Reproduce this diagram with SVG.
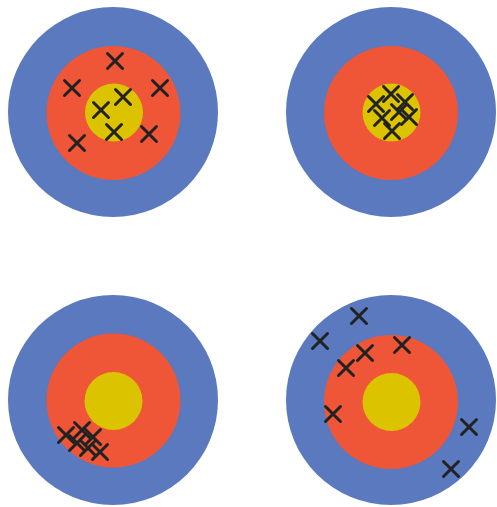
<svg xmlns="http://www.w3.org/2000/svg" xmlns:xlink="http://www.w3.org/1999/xlink" width="497" height="507" viewBox="0 0 497 507">
<style>
.o{fill:#5a79bf}.r{fill:#ef5537}.y{fill:#dcc300}
.x{stroke:#222;stroke-width:3;stroke-linecap:round;fill:none}
</style>
<defs>
<path id="x" class="x" d="M-7.5,-7.5L7.5,7.5M7.5,-7.5L-7.5,7.5"/>
</defs>
<rect width="497" height="507" fill="#fff"/>
<g id="t1">
<circle class="o" cx="113" cy="112" r="105"/>
<circle class="r" cx="113.5" cy="113" r="67"/>
<circle class="y" cx="114" cy="112.5" r="29"/>
<use href="#x" x="115" y="61"/><use href="#x" x="72" y="88"/><use href="#x" x="160" y="88"/>
<use href="#x" x="123" y="97"/><use href="#x" x="101" y="110"/><use href="#x" x="114" y="132"/>
<use href="#x" x="149" y="134"/><use href="#x" x="77" y="143"/>
</g>
<g id="t2">
<circle class="o" cx="391" cy="112" r="105"/>
<circle class="r" cx="391" cy="113" r="67"/>
<circle class="y" cx="391.5" cy="112.5" r="29"/>
<use href="#x" x="391" y="94"/><use href="#x" x="376" y="104"/><use href="#x" x="405" y="102"/>
<use href="#x" x="399" y="112"/><use href="#x" x="409" y="117"/><use href="#x" x="382" y="118"/>
<use href="#x" x="392" y="131"/>
</g>
<g id="t3">
<circle class="o" cx="113" cy="400" r="105"/>
<circle class="r" cx="113.5" cy="400.5" r="67"/>
<circle class="y" cx="113.5" cy="401" r="29"/>
<use href="#x" x="66" y="435"/><use href="#x" x="82" y="430"/><use href="#x" x="77" y="443"/>
<use href="#x" x="93" y="437"/><use href="#x" x="88" y="448"/><use href="#x" x="100" y="452"/>
</g>
<g id="t4">
<circle class="o" cx="391" cy="400" r="105"/>
<circle class="r" cx="391" cy="402" r="67"/>
<circle class="y" cx="391.5" cy="402" r="29"/>
<use href="#x" x="359" y="316"/><use href="#x" x="320" y="341"/><use href="#x" x="402" y="345"/>
<use href="#x" x="365" y="353"/><use href="#x" x="346" y="368"/><use href="#x" x="333" y="414"/>
<use href="#x" x="469" y="427"/><use href="#x" x="451" y="469"/>
</g>
</svg>
